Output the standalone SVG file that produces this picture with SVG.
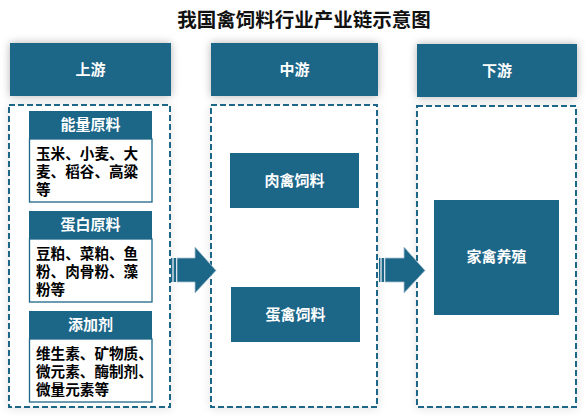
<svg xmlns="http://www.w3.org/2000/svg" width="588" height="419" viewBox="0 0 588 419">
<defs>
<filter id="sh" x="-20%" y="-20%" width="140%" height="140%">
<feDropShadow dx="0" dy="0" stdDeviation="4" flood-color="#000" flood-opacity="0.3"/>
</filter>
<filter id="sh2" x="-20%" y="-20%" width="140%" height="140%">
<feDropShadow dx="0" dy="1" stdDeviation="4" flood-color="#000" flood-opacity="0.12"/>
</filter>
<style>
.blk{fill:#1c6688}
.dash{fill:#fff;stroke:#1c6688;stroke-width:2;stroke-dasharray:6 3}
.cbox{fill:#fff;stroke:#1c6688;stroke-width:1.3}
.wt{fill:#fff;font-family:"Liberation Sans","Noto Sans CJK SC",sans-serif;font-weight:bold;font-size:15px;text-anchor:middle}
.bt{fill:#000;font-family:"Liberation Sans","Noto Sans CJK SC",sans-serif;font-weight:bold;font-size:14.6px}
.title{fill:#111;font-family:"Liberation Sans","Noto Sans CJK SC",sans-serif;font-weight:bold;font-size:19.5px;text-anchor:middle}
.arr{fill:#1c6688;stroke:#a9c3d2;stroke-width:0.8}
</style>
</defs>
<rect width="588" height="419" fill="#fff"/>
<text class="title" x="304" y="27">我国禽饲料行业产业链示意图</text>

<g id="header-up"><rect class="blk" x="10" y="43" width="161" height="53" filter="url(#sh)"/><text class="wt" x="90.5" y="75">上游</text></g>
<g id="header-mid"><rect class="blk" x="211" y="43" width="167" height="53" filter="url(#sh)"/><text class="wt" x="294.5" y="75">中游</text></g>
<g id="header-down"><rect class="blk" x="417" y="44" width="160" height="53" filter="url(#sh)"/><text class="wt" x="497" y="76">下游</text></g>

<g id="panel-up"><rect class="dash" x="9" y="105" width="161" height="302" filter="url(#sh2)"/></g>
<g id="panel-mid"><rect class="dash" x="211" y="105" width="166" height="302" filter="url(#sh2)"/></g>
<g id="panel-down"><rect class="dash" x="417" y="106" width="159" height="301" filter="url(#sh2)"/></g>

<g id="energy">
<rect class="cbox" x="29.5" y="139" width="122.5" height="63"/>
<rect class="blk" x="29" y="111" width="123" height="28"/>
<text class="wt" x="90.5" y="130">能量原料</text>
<text class="bt" x="36" y="159">玉米、小麦、大</text>
<text class="bt" x="36" y="177">麦、稻谷、高粱</text>
<text class="bt" x="36" y="195">等</text>
</g>
<g id="protein">
<rect class="cbox" x="29.5" y="239" width="122.5" height="63"/>
<rect class="blk" x="29" y="211" width="123" height="28"/>
<text class="wt" x="90.5" y="230">蛋白原料</text>
<text class="bt" x="36" y="259">豆粕、菜粕、鱼</text>
<text class="bt" x="36" y="277">粉、肉骨粉、藻</text>
<text class="bt" x="36" y="295">粉等</text>
</g>
<g id="additive">
<rect class="cbox" x="29.5" y="339" width="122.5" height="63"/>
<rect class="blk" x="29" y="311" width="123" height="28"/>
<text class="wt" x="90.5" y="330">添加剂</text>
<text class="bt" x="36" y="359">维生素、矿物质、</text>
<text class="bt" x="36" y="377">微元素、酶制剂、</text>
<text class="bt" x="36" y="395">微量元素等</text>
</g>

<g id="meat-feed"><rect class="blk" x="230" y="153" width="129" height="55"/><text class="wt" x="294.5" y="186">肉禽饲料</text></g>
<g id="egg-feed"><rect class="blk" x="231" y="287" width="129" height="55"/><text class="wt" x="295.5" y="320">蛋禽饲料</text></g>
<g id="poultry"><rect class="blk" x="434" y="200" width="125" height="115"/><text class="wt" x="496.5" y="262">家禽养殖</text></g>

<g id="connectors">
<g>
<rect x="171" y="258" width="1.4" height="24" fill="#1c6688"/>
<rect x="173.6" y="258" width="2.4" height="24" fill="#1c6688"/>
<path class="arr" d="M177,258 H195 V247 L216,270.5 L195,293 V282 H177 Z"/>
</g>
<g>
<rect x="379" y="258" width="1.4" height="24" fill="#1c6688"/>
<rect x="381.6" y="258" width="2.4" height="24" fill="#1c6688"/>
<path class="arr" d="M385,258 H404 V247 L425,270.5 L404,293 V282 H385 Z"/>
</g>
</g>
</svg>
